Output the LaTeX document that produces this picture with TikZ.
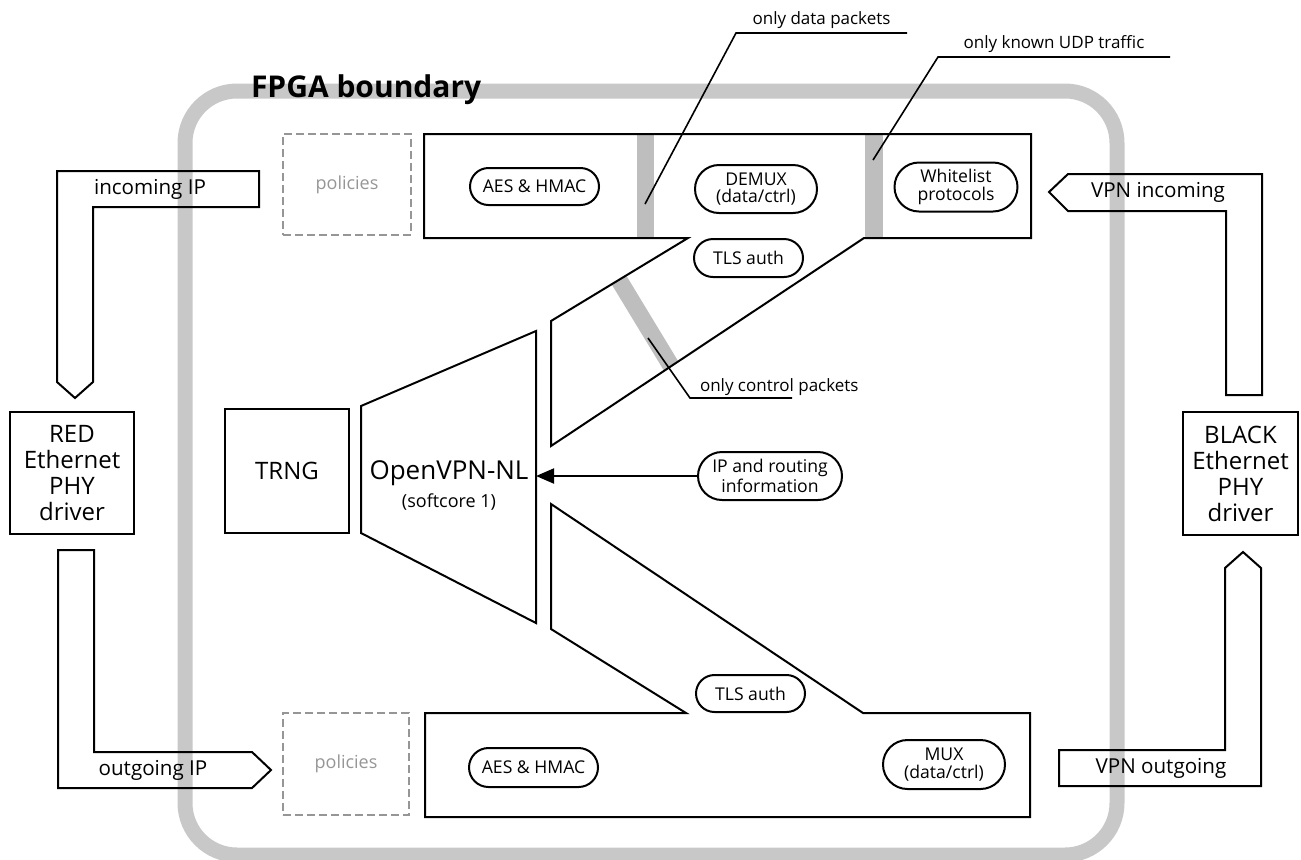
\documentclass[tikz,border=0pt]{standalone}
\usepackage{fontspec}
\setmainfont{Open Sans}
\usepackage{tikz}
\usetikzlibrary{positioning,arrows.meta,shapes.misc}
\definecolor{bandgray}{RGB}{200,200,200}
\definecolor{bargray}{RGB}{190,190,190}
\definecolor{dashgray}{RGB}{150,150,150}

\begin{document}
\begin{tikzpicture}[x=0.5pt,y=-0.5pt,line width=1pt,
  pill/.style={draw,rounded rectangle,inner sep=0pt,align=center,font=\fontsize{8.8}{8.6}\selectfont},
  drvbox/.style={draw,inner sep=0pt,align=center,font=\fontsize{12}{13}\selectfont},
  flowshape/.style={draw,line join=miter},
  flowtext/.style={font=\fontsize{10.3}{12}\selectfont},
  notetext/.style={font=\fontsize{8.5}{10}\selectfont,inner xsep=0pt,inner ysep=1.5pt,anchor=south},
  policybox/.style={draw=dashgray,dash pattern=on 4pt off 2pt,text=dashgray,font=\fontsize{9}{10}\selectfont,inner sep=0pt},
  filterbar/.style={fill=bargray}]
\useasboundingbox (0,0) rectangle (1301,859);
% FPGA boundary
\draw[bandgray,line width=7.5pt,rounded corners=26pt] (185,91) rectangle (1117,855);
\node[font=\fontsize{15}{18}\selectfont\bfseries,anchor=base west,inner sep=0pt] (fpga) at (250,97) {FPGA boundary};
% RED side
\node[drvbox,minimum width=62pt,minimum height=61pt] (red) at (72,473) {RED\\Ethernet\\PHY\\driver};
\draw[flowshape] (57,171) -- (259,171) -- (259,207) -- (93,207) -- (93,382) -- (75,398) -- (57,382) -- cycle;
\node[flowtext] (inip) at (150,189) {incoming IP};
\draw[flowshape] (58,550) -- (94,550) -- (94,752) -- (252,752) -- (271,770) -- (252,788) -- (58,788) -- cycle;
\node[flowtext] (outip) at (153,770) {outgoing IP};
% BLACK side
\node[drvbox,minimum width=57.5pt,minimum height=61.5pt] (black) at (1240.5,473.5) {BLACK\\Ethernet\\PHY\\driver};
\draw[flowshape] (1049,192) -- (1068,174) -- (1262,174) -- (1262,395) -- (1226,395) -- (1226,211) -- (1068,211) -- cycle;
\node[flowtext] (vpnin) at (1158,192) {VPN incoming};
\draw[flowshape] (1243,552) -- (1261,568) -- (1261,786) -- (1059,786) -- (1059,750) -- (1225,750) -- (1225,568) -- cycle;
\node[flowtext] (vpnout) at (1161,768) {VPN outgoing};
% policies
\node[policybox,minimum width=64pt,minimum height=50.5pt] (poltop) at (347,184.5) {policies};
\node[policybox,minimum width=63pt,minimum height=51pt] (polbot) at (346,764) {policies};
% incoming path with filters
\fill[filterbar] (637,134) rectangle (654,238);
\fill[filterbar] (865,134) rectangle (883,238);
\fill[filterbar] (611.7,284.4) -- (626.3,275.6) -- (678.3,361.4) -- (664.1,370.9) -- cycle;
\draw[flowshape] (424,134) -- (1031,134) -- (1031,238) -- (864,238) -- (551,446) -- (551,321) -- (688,238) -- (424,238) -- cycle;
\node[pill,minimum width=64.5pt,minimum height=18.5pt] (aestop) at (534.5,186.5) {AES \& HMAC};
\node[pill,minimum width=61pt,minimum height=24pt] (demux) at (756,189) {DEMUX\\(data/ctrl)};
\node[pill,minimum width=54.5pt,minimum height=19pt] (tlstop) at (748.5,258) {TLS auth};
\node[pill,minimum width=61.5pt,minimum height=24.5pt] (white) at (956,187) {Whitelist\\protocols};
% softcore
\draw[flowshape] (361,406) -- (536,331) -- (536,623) -- (361,533) -- cycle;
\node[font=\fontsize{13}{15}\selectfont] (ovpn) at (449,473) {OpenVPN-NL};
\node[font=\fontsize{9}{11}\selectfont] (softcore) at (449,502) {(softcore 1)};
\node[drvbox,minimum width=62pt,minimum height=62pt] (trng) at (287,471) {TRNG};
\node[pill,minimum width=72pt,minimum height=24pt] (ipinfo) at (770,476) {IP and routing\\information};
\coordinate (ovpnin) at (536,476);
\draw[-{Triangle[length=9pt,width=7.5pt]}] (ipinfo.west) -- (ovpnin);
% outgoing path
\draw[flowshape] (425,713) -- (686,713) -- (551,629) -- (551,504) -- (863,713) -- (1030,713) -- (1030,817) -- (425,817) -- cycle;
\node[pill,minimum width=54.5pt,minimum height=18.5pt] (tlsbot) at (750.5,693.5) {TLS auth};
\node[pill,minimum width=64.5pt,minimum height=19.5pt] (aesbot) at (533.5,767.5) {AES \& HMAC};
\node[pill,minimum width=61pt,minimum height=24.5pt] (mux) at (944,764.5) {MUX\\(data/ctrl)};
% notes
\node[notetext,minimum width=84.5pt] (datanote) at (821.5,33) {only data packets};
\coordinate (datatap) at (645,204);
\draw[line width=0.8pt] (datatap) -- (datanote.south west) -- (datanote.south east);
\node[notetext,minimum width=115pt] (udpnote) at (1054,57) {only known UDP traffic};
\coordinate (udptap) at (873,160);
\draw[line width=0.8pt] (udptap) -- (udpnote.south west) -- (udpnote.south east);
\node[font=\fontsize{8.5}{10}\selectfont,anchor=base west,inner sep=0pt] (ctrlnote) at (699,391) {only control packets};
\coordinate (ctrltap) at (648,338);
\coordinate (ctrlbend) at (690,398);
\draw[line width=0.8pt] (ctrltap) -- (ctrlbend) -- ++(102,0);
\end{tikzpicture}
\end{document}
